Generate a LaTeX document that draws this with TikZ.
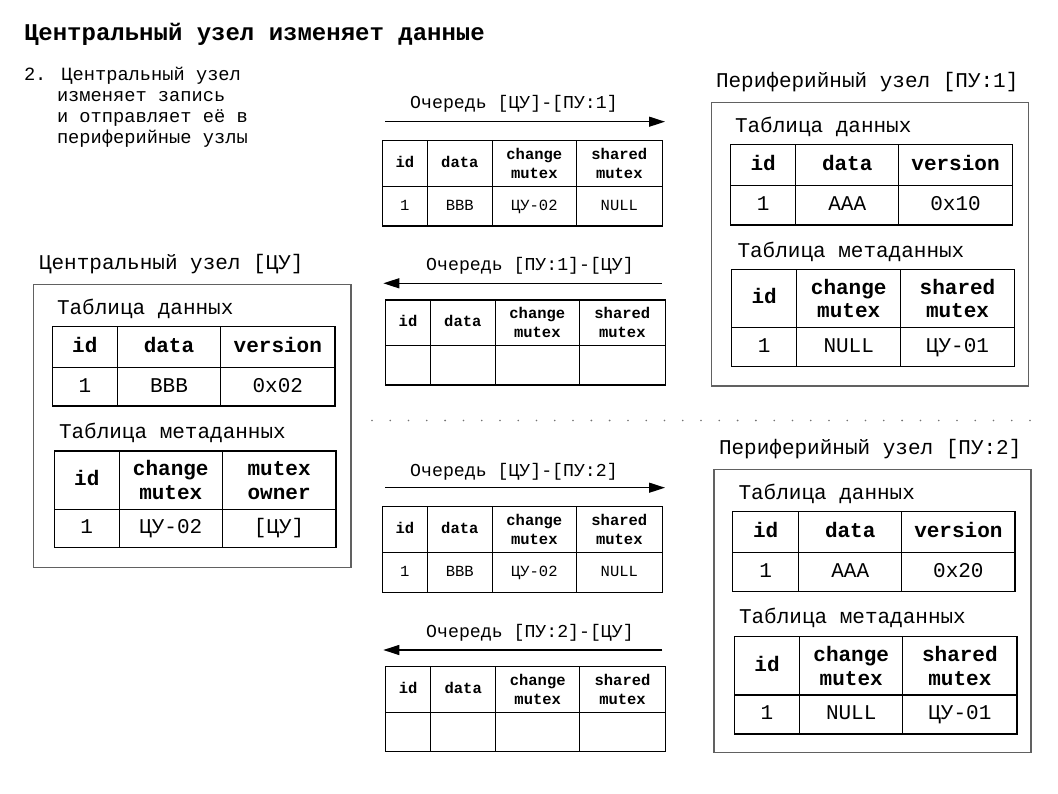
\documentclass[tikz,border=0pt]{standalone}
\usepackage{fontspec}
\setmainfont{Liberation Mono}
\usetikzlibrary{arrows.meta}
\newcommand\tc[7]{\node[#1, minimum width={(#4-#2)*1pt}, minimum height={(#5-#3)*1pt}] (#6) at ({(#2+#4)/2},{(#3+#5)/2}) {\vphantom{Цd}#7};}
\begin{document}
\begin{tikzpicture}[x=1pt,y=-1pt,
  txt/.style={inner sep=0pt, outer sep=0pt, anchor=base west},
  titletxt/.style={txt, font=\bfseries\fontsize{24}{28}\selectfont},
  steptxt/.style={txt, font=\fontsize{18.7}{21}\selectfont},
  qlabel/.style={inner sep=0pt, anchor=base, font=\fontsize{18.2}{21}\selectfont},
  nlabel/.style={txt, font=\fontsize{21}{24}\selectfont},
  qcell/.style={draw=black, line width=1.1pt, inner sep=0pt, align=center, font=\fontsize{15.5}{18.5}\selectfont},
  ncell/.style={draw=black, line width=1.1pt, inner sep=0pt, align=center, font=\fontsize{21}{23.5}\selectfont},
  nodebox/.style={draw=black!62, line width=1.4pt, inner sep=0pt, fill=none},
  flow/.style={line width=1.3pt, -{Triangle[length=16pt,width=10pt]}},
]
\useasboundingbox (0,0) rectangle (1058,794);
\fill[white] (0,0) rectangle (1058,794);

% title and step text
\node[titletxt] (title) at (24,41) {Центральный узел изменяет данные};
\node[steptxt] (s1) at (24,81) {2. Центральный узел};
\node[steptxt] (s2) at (57,102) {изменяет запись};
\node[steptxt] (s3) at (57,123) {и отправляет её в};
\node[steptxt] (s4) at (57,144) {периферийные узлы};

% ---------- central node ----------
\node[nlabel] (culabel) at (39,269.3) {Центральный узел [ЦУ]};
\tc{nodebox}{33.3}{284.3}{351}{567.3}{cubox}{}
\node[nlabel] (cudt) at (57,315) {Таблица данных};
\tc{ncell}{52.3}{326.7}{117.3}{367.3}{cud11}{\bfseries id}
\tc{ncell}{117.3}{326.7}{220.7}{367.3}{cud12}{\bfseries data}
\tc{ncell}{220.7}{326.7}{335}{367.3}{cud13}{\bfseries version}
\tc{ncell}{52.3}{367.3}{117.3}{406}{cud21}{1}
\tc{ncell}{117.3}{367.3}{220.7}{406}{cud22}{BBB}
\tc{ncell}{220.7}{367.3}{335}{406}{cud23}{0x02}
\node[nlabel] (cumt) at (59,438.3) {Таблица метаданных};
\tc{ncell}{54.3}{451}{119.3}{509.3}{cum11}{\bfseries id}
\tc{ncell}{119.3}{451}{222.3}{509.3}{cum12}{\bfseries change\\\bfseries mutex}
\tc{ncell}{222.3}{451}{336}{509.3}{cum13}{\bfseries mutex\\\bfseries owner}
\tc{ncell}{54.3}{509.3}{119.3}{547.7}{cum21}{1}
\tc{ncell}{119.3}{509.3}{222.3}{547.7}{cum22}{ЦУ-02}
\tc{ncell}{222.3}{509.3}{336}{547.7}{cum23}{[ЦУ]}

% ---------- peripheral node 1 ----------
\node[nlabel] (p1label) at (716,87.3) {Периферийный узел [ПУ:1]};
\tc{nodebox}{711.7}{102.7}{1028.3}{386}{p1box}{}
\node[nlabel] (p1dt) at (735,132.7) {Таблица данных};
\tc{ncell}{730.7}{144.3}{795.7}{185.7}{p1d11}{\bfseries id}
\tc{ncell}{795.7}{144.3}{898.7}{185.7}{p1d12}{\bfseries data}
\tc{ncell}{898.7}{144.3}{1012.3}{185.7}{p1d13}{\bfseries version}
\tc{ncell}{730.7}{185.7}{795.7}{225}{p1d21}{1}
\tc{ncell}{795.7}{185.7}{898.7}{225}{p1d22}{AAA}
\tc{ncell}{898.7}{185.7}{1012.3}{225}{p1d23}{0x10}
\node[nlabel] (p1mt) at (737.5,257.3) {Таблица метаданных};
\tc{ncell}{731.7}{269.3}{796.7}{327.3}{p1m11}{\bfseries id}
\tc{ncell}{796.7}{269.3}{900.7}{327.3}{p1m12}{\bfseries change\\\bfseries mutex}
\tc{ncell}{900.7}{269.3}{1014.3}{327.3}{p1m13}{\bfseries shared\\\bfseries mutex}
\tc{ncell}{731.7}{327.3}{796.7}{366.7}{p1m21}{1}
\tc{ncell}{796.7}{327.3}{900.7}{366.7}{p1m22}{NULL}
\tc{ncell}{900.7}{327.3}{1014.3}{366.7}{p1m23}{ЦУ-01}

% ---------- peripheral node 2 ----------
\node[nlabel] (p2label) at (719,454) {Периферийный узел [ПУ:2]};
\tc{nodebox}{714}{469.3}{1031}{752.3}{p2box}{}
\node[nlabel] (p2dt) at (738.5,499.3) {Таблица данных};
\tc{ncell}{732.7}{511.7}{798.7}{552.3}{p2d11}{\bfseries id}
\tc{ncell}{798.7}{511.7}{901.7}{552.3}{p2d12}{\bfseries data}
\tc{ncell}{901.7}{511.7}{1015}{552.3}{p2d13}{\bfseries version}
\tc{ncell}{732.7}{552.3}{798.7}{591.3}{p2d21}{1}
\tc{ncell}{798.7}{552.3}{901.7}{591.3}{p2d22}{AAA}
\tc{ncell}{901.7}{552.3}{1015}{591.3}{p2d23}{0x20}
\node[nlabel] (p2mt) at (739,623.3) {Таблица метаданных};
\tc{ncell}{734.3}{636.7}{799.7}{695}{p2m11}{\bfseries id}
\tc{ncell}{799.7}{636.7}{902.7}{695}{p2m12}{\bfseries change\\\bfseries mutex}
\tc{ncell}{902.7}{636.7}{1017}{695}{p2m13}{\bfseries shared\\\bfseries mutex}
\tc{ncell}{734.3}{695}{799.7}{734}{p2m21}{1}
\tc{ncell}{799.7}{695}{902.7}{734}{p2m22}{NULL}
\tc{ncell}{902.7}{695}{1017}{734}{p2m23}{ЦУ-01}

% ---------- queue 1: ЦУ -> ПУ:1 ----------
\node[qlabel] (q1label) at (514,108.3) {Очередь [ЦУ]-[ПУ:1]};
\coordinate (q1a) at (385,121.7);
\coordinate (q1b) at (665,121.7);
\draw[flow] (q1a) -- (q1b);
\tc{qcell}{382.3}{140.3}{427.3}{186.7}{q1h1}{\bfseries id}
\tc{qcell}{427.3}{140.3}{492.3}{186.7}{q1h2}{\bfseries data}
\tc{qcell}{492.3}{140.3}{576.3}{186.7}{q1h3}{\bfseries change\\\bfseries mutex}
\tc{qcell}{576.3}{140.3}{662.3}{186.7}{q1h4}{\bfseries shared\\\bfseries mutex}
\tc{qcell}{382.3}{186.7}{427.3}{226}{q1r1}{1}
\tc{qcell}{427.3}{186.7}{492.3}{226}{q1r2}{BBB}
\tc{qcell}{492.3}{186.7}{576.3}{226}{q1r3}{ЦУ-02}
\tc{qcell}{576.3}{186.7}{662.3}{226}{q1r4}{NULL}

% ---------- queue 2: ПУ:1 -> ЦУ ----------
\node[qlabel] (q2label) at (530,270.7) {Очередь [ПУ:1]-[ЦУ]};
\coordinate (q2a) at (661.7,283.3);
\coordinate (q2b) at (383.3,283.3);
\draw[flow] (q2a) -- (q2b);
\tc{qcell}{385.7}{300}{430.3}{345.3}{q2h1}{\bfseries id}
\tc{qcell}{430.3}{300}{495.3}{345.3}{q2h2}{\bfseries data}
\tc{qcell}{495.3}{300}{579.3}{345.3}{q2h3}{\bfseries change\\\bfseries mutex}
\tc{qcell}{579.3}{300}{665.3}{345.3}{q2h4}{\bfseries shared\\\bfseries mutex}
\tc{qcell}{385.7}{345.3}{430.3}{385}{q2r1}{}
\tc{qcell}{430.3}{345.3}{495.3}{385}{q2r2}{}
\tc{qcell}{495.3}{345.3}{579.3}{385}{q2r3}{}
\tc{qcell}{579.3}{345.3}{665.3}{385}{q2r4}{}

% ---------- separator ----------
\foreach \i in {0,...,36} \fill[black!55] ({372+\i*18.28},420.5) circle (0.9pt);

% ---------- queue 3: ЦУ -> ПУ:2 ----------
\node[qlabel] (q3label) at (514,476) {Очередь [ЦУ]-[ПУ:2]};
\coordinate (q3a) at (385,487.7);
\coordinate (q3b) at (665,487.7);
\draw[flow] (q3a) -- (q3b);
\tc{qcell}{382.3}{506.7}{427.3}{552.3}{q3h1}{\bfseries id}
\tc{qcell}{427.3}{506.7}{492.3}{552.3}{q3h2}{\bfseries data}
\tc{qcell}{492.3}{506.7}{576.3}{552.3}{q3h3}{\bfseries change\\\bfseries mutex}
\tc{qcell}{576.3}{506.7}{662.3}{552.3}{q3h4}{\bfseries shared\\\bfseries mutex}
\tc{qcell}{382.3}{552.3}{427.3}{592.3}{q3r1}{1}
\tc{qcell}{427.3}{552.3}{492.3}{592.3}{q3r2}{BBB}
\tc{qcell}{492.3}{552.3}{576.3}{592.3}{q3r3}{ЦУ-02}
\tc{qcell}{576.3}{552.3}{662.3}{592.3}{q3r4}{NULL}

% ---------- queue 4: ПУ:2 -> ЦУ ----------
\node[qlabel] (q4label) at (530,637.3) {Очередь [ПУ:2]-[ЦУ]};
\coordinate (q4a) at (662.3,650);
\coordinate (q4b) at (383.3,650);
\draw[flow] (q4a) -- (q4b);
\tc{qcell}{385.7}{666.7}{430.7}{712.3}{q4h1}{\bfseries id}
\tc{qcell}{430.7}{666.7}{495.7}{712.3}{q4h2}{\bfseries data}
\tc{qcell}{495.7}{666.7}{579.7}{712.3}{q4h3}{\bfseries change\\\bfseries mutex}
\tc{qcell}{579.7}{666.7}{665.3}{712.3}{q4h4}{\bfseries shared\\\bfseries mutex}
\tc{qcell}{385.7}{712.3}{430.7}{751.7}{q4r1}{}
\tc{qcell}{430.7}{712.3}{495.7}{751.7}{q4r2}{}
\tc{qcell}{495.7}{712.3}{579.7}{751.7}{q4r3}{}
\tc{qcell}{579.7}{712.3}{665.3}{751.7}{q4r4}{}
\end{tikzpicture}
\end{document}
